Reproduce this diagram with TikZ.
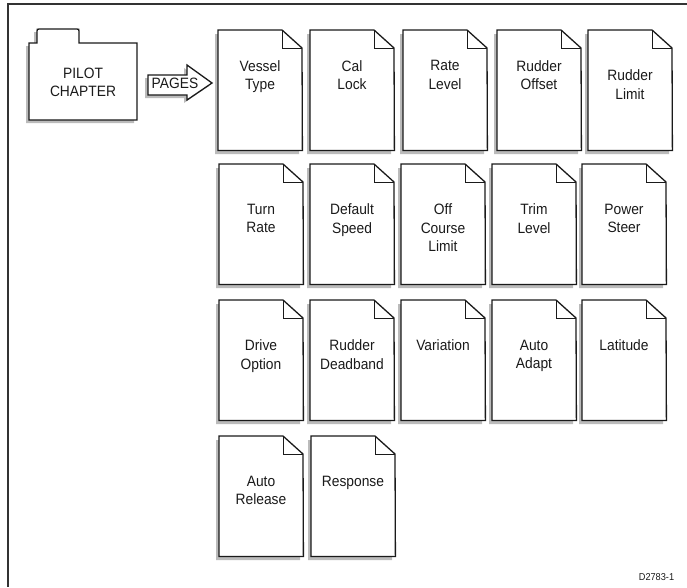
\documentclass[tikz,border=0pt]{standalone}
\usepackage{fontspec}
\setmainfont{Liberation Sans}[FakeStretch=0.92]
\definecolor{shadowgray}{HTML}{BBBBBB}
\definecolor{inkc}{HTML}{1A1A1A}
\definecolor{framec}{HTML}{333333}
\tikzset{
  pageline/.style={draw=inkc, line width=1.3pt, fill=white, line join=miter},
  foldline/.style={draw=inkc, line width=1pt},
  shadowfill/.style={fill=shadowgray},
  pagenode/.style={inner sep=0pt, minimum width=84pt, minimum height=120pt, anchor=north west},
  pagetext/.style={inner sep=0pt, anchor=north, align=center, text=inkc, font=\fontsize{15}{18.5}\selectfont},
}
\newcommand\docpage[5]{%
  \fill[shadowfill] (#2-3,#3+4) -- (#2+61,#3+4) -- (#2+81,#3+22) -- (#2+81,#3+124) -- (#2-3,#3+124) -- cycle;
  \node[pagenode] (#1) at (#2,#3) {};
  \draw[pageline] (#1.north west) -- ++(64,0) -- ++(20,18) -- (#1.south east) -- (#1.south west) -- cycle;
  \draw[foldline] (#1.north west) ++(64,0) -- ++(0,18) -- ++(20,0);
  \node[pagetext] (#1-t) at (#2+42,#3+#4-5.5) {#5};
}
\begin{document}
\begin{tikzpicture}[x=1pt,y=-1pt]
\useasboundingbox (0,0) rectangle (687,587);
% frame
\draw[framec, line width=1.6pt] (687,4) -- (8,4) -- (8,587);
% folder
\fill[shadowfill] (26,46) -- (34,46) -- (34,32) -- (76,32) -- (76,46) -- (134,46) -- (134,123) -- (26,123) -- cycle;
\draw[pageline] (29,43) -- (37,43) -- (37,31.5) .. controls (37,29) .. (39.5,29) -- (76.5,29) .. controls (79,29) .. (79,31.5) -- (79,43) -- (137,43) -- (137,120) -- (29,120) -- cycle;
\node[inner sep=0pt, minimum width=108pt, minimum height=77pt] (folder) at (83,81.5) {};
\node[pagetext] (folder-t) at (83,73-5.5) {PILOT\\CHAPTER};
% PAGES arrow
\fill[shadowfill] (145,78) -- (184,78) -- (184,68) -- (209,86) -- (184,103) -- (184,98) -- (145,98) -- cycle;
\draw[pageline] (148,75) -- (187,75) -- (187,65) -- (212,83) -- (187,100) -- (187,95) -- (148,95) -- cycle;
\node[inner sep=0pt, text=inkc, font=\fontsize{15}{18}\selectfont] (pages) at (175,83.5) {PAGES};
% pages row 1
\docpage{vessel}{218}{30}{35.5}{Vessel\\Type}
\docpage{cal}{310}{30}{35.5}{Cal\\Lock}
\docpage{rate}{403}{30}{35.5}{Rate\\Level}
\docpage{roffset}{497}{30}{35.5}{Rudder\\Offset}
\docpage{rlimit}{588}{30}{45}{Rudder\\Limit}
% row 2
\docpage{turn}{219}{164}{45}{Turn\\Rate}
\docpage{default}{310}{164}{45}{Default\\Speed}
\docpage{offcourse}{401}{164}{45}{Off\\Course\\Limit}
\docpage{trim}{492}{164}{45}{Trim\\Level}
\docpage{power}{582}{164}{45}{Power\\Steer}
% row 3
\docpage{drive}{219}{300}{45}{Drive\\Option}
\docpage{deadband}{310}{300}{45}{Rudder\\Deadband}
\docpage{variation}{401}{300}{45}{Variation}
\docpage{adapt}{492}{300}{45}{Auto\\Adapt}
\docpage{latitude}{582}{300}{45}{Latitude}
% row 4
\docpage{release}{219}{436}{45}{Auto\\Release}
\docpage{response}{311}{436}{45}{Response}
% figure code
\node[inner sep=0pt, text=inkc, font=\fontsize{10}{12}\selectfont] (code) at (656.5,577) {D2783-1};
\end{tikzpicture}
\end{document}
